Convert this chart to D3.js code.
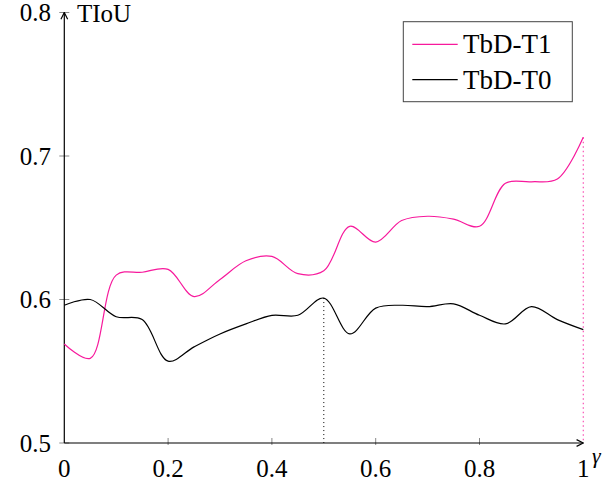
<!DOCTYPE html>
<html><head><meta charset="utf-8">
<script src="https://cdn.jsdelivr.net/npm/d3@7"></script>
<style>body{margin:0;background:#fff}svg{display:block}
text{font-family:"Liberation Serif","DejaVu Serif","Noto Serif","Tinos","Times New Roman",Times,serif;}
</style>
</head><body>
<script>
const gammas = [0,0.05,0.1,0.15,0.2,0.25,0.3,0.35,0.4,0.45,0.5,0.55,0.6,0.65,0.7,0.75,0.8,0.85,0.9,0.95,1.0];
const tbdT1 = [0.569,0.559,0.617,0.619,0.621,0.602,0.614,0.627,0.630,0.618,0.620,0.651,0.640,0.655,0.658,0.656,0.651,0.681,0.682,0.684,0.713];
const tbdT0 = [0.596,0.600,0.588,0.586,0.557,0.567,0.576,0.583,0.589,0.589,0.601,0.576,0.594,0.596,0.595,0.597,0.589,0.583,0.595,0.586,0.579];
const xTicks = [0,0.2,0.4,0.6,0.8,1];
const yTicks = [0.5,0.6,0.7,0.8];
const seriesNames = ["TbD-T1","TbD-T0"];
const seriesColors = ["#f7199c","#000000"];

const W=608,H=486;
const svg=d3.select("body").append("svg").attr("width",W).attr("height",H);
const x=d3.scaleLinear().domain([0,1]).range([64.3,583.3]);
const y=d3.scaleLinear().domain([0.5,0.8]).range([443,12.5]);

svg.append("defs").append("marker").attr("id","arr").attr("viewBox","0 0 10 10")
 .attr("refX",9).attr("refY",5).attr("markerWidth",7).attr("markerHeight",7).attr("orient","auto")
 .append("path").attr("d","M1,1 L9,5 L1,9").attr("fill","none").attr("stroke","#000").attr("stroke-width",1.4);

// dotted drop lines
svg.append("line").attr("x1",x(0.5)).attr("x2",x(0.5)).attr("y1",y(tbdT0[10])).attr("y2",y(0.5))
 .attr("stroke","#000").attr("stroke-width",1).attr("stroke-dasharray","1,3");
svg.append("line").attr("x1",x(1)).attr("x2",x(1)).attr("y1",y(tbdT1[20])).attr("y2",y(0.5))
 .attr("stroke",seriesColors[0]).attr("stroke-opacity",0.75).attr("stroke-width",1.2).attr("stroke-dasharray","1.5,3");

// ticks
const g=svg.append("g");
xTicks.forEach(t=>{
 if(t>0&&t<1) g.append("line").attr("x1",x(t)).attr("x2",x(t)).attr("y1",y(0.5)-5).attr("y2",y(0.5)+2).attr("stroke","#888").attr("stroke-width",1);
 g.append("text").attr("x",x(t)).attr("y",477).attr("text-anchor","middle").attr("font-size",25).text(d3.format("")(t));
});
yTicks.forEach(t=>{
 g.append("line").attr("x1",x(0)-5).attr("x2",x(0)+5).attr("y1",y(t)).attr("y2",y(t)).attr("stroke","#888").attr("stroke-width",1);
 g.append("text").attr("x",51).attr("y",y(t)+8.5).attr("text-anchor","end").attr("font-size",25).text(d3.format(".1f")(t));
});
// axes
svg.append("line").attr("x1",x(0)).attr("x2",x(1)).attr("y1",y(0.5)).attr("y2",y(0.5)).attr("stroke","#000").attr("stroke-width",1.2).attr("marker-end","url(#arr)");
svg.append("line").attr("x1",x(0)).attr("x2",x(0)).attr("y1",y(0.5)).attr("y2",y(0.8)).attr("stroke","#000").attr("stroke-width",1.2).attr("marker-end","url(#arr)");
svg.append("text").attr("x",77).attr("y",22).attr("font-size",25).text("TIoU");
svg.append("text").attr("x",592).attr("y",463).attr("font-style","italic").attr("font-size",22).text("γ");

// lines
const line=d3.line().x(d=>x(d[0])).y(d=>y(d[1])).curve(d3.curveCatmullRom.alpha(0.5));
[tbdT1,tbdT0].forEach((s,i)=>{
 svg.append("path").datum(gammas.map((g,j)=>[g,s[j]])).attr("d",line).attr("fill","none")
  .attr("stroke",seriesColors[i]).attr("stroke-width",1.2);
});

// legend
const lg=svg.append("g");
lg.append("rect").attr("x",403.3).attr("y",21.7).attr("width",169).attr("height",80).attr("fill","#fff").attr("stroke","#444").attr("stroke-width",1);
seriesNames.forEach((n,i)=>{
 const yy=44.3+i*35.3;
 lg.append("line").attr("x1",412.3).attr("x2",457.7).attr("y1",yy).attr("y2",yy).attr("stroke",seriesColors[i]).attr("stroke-width",1.2);
 lg.append("text").attr("x",463).attr("y",yy+9).attr("font-size",27).text(n);
});
</script>
</body></html>
